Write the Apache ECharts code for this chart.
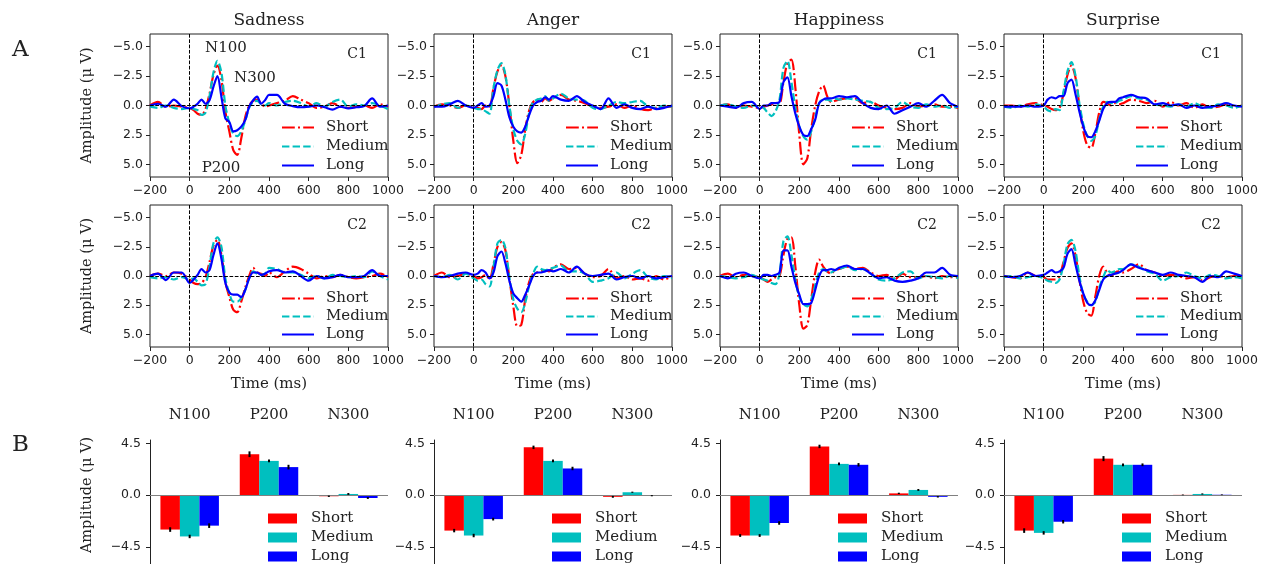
<!DOCTYPE html>
<html>
<head>
<meta charset="utf-8">
<script src="https://cdn.jsdelivr.net/npm/echarts@6/dist/echarts.min.js"></script>
<style>
html,body{margin:0;padding:0;background:#fff}
#main{width:1262px;height:564px}
</style>
</head>
<body>
<div id="main"></div>
<script>
// time axis (ms) shared by every ERP trace
var times = [-200,-160,-120,-80,-40,0,20,40,60,80,100,120,140,160,180,200,220,240,260,280,300,320,340,360,380,400,440,480,520,560,600,640,680,720,760,800,840,880,920,960,1000];

// Sadness
var sadC1Short = [0,-0.3,0.1,0,0.1,0.2, 0.4,0.7,0.8,0.3,-1.0,-2.6,-3.4,-2.2,0.5,2.2,3.8,4.2,2.8,1.0,0.0,-0.4,-0.5,-0.2,0.1,0.0, -0.2,-0.4,-0.8,-0.5,-0.2,0.2,0.1,-0.2,0.1,0.2,0.1,0.0,0.2,-0.1,0.1];
var sadC1Medium = [0.1,0.2,0.0,0.2,0.3,0.2, 0.3,0.4,0.8,0.6,-0.8,-2.8,-3.8,-2.8,0.0,1.5,2.4,2.6,2.2,1.3,0.2,-0.3,-0.4,-0.1,0.0,-0.2, 0.0,-0.3,-0.4,-0.2,0.1,-0.2,0.1,-0.3,-0.5,0.1,-0.1,0.0,-0.2,0.0,0.3];
var sadC1Long = [0,-0.15,0.1,-0.5,0.05,0.25, 0.1,-0.15,-0.5,-0.15,-0.45,-1.6,-2.5,-0.75,1.1,1.4,2.2,2.1,1.8,1.25,0.1,-0.45,-0.75,-0.15,-0.45,-0.9, -0.9,-0.15,0.05,0.15,0.1,0.0,0.15,0.35,0.1,0.25,0.15,0.05,-0.6,0.1,0.0];
var sadC2Short = [0,-0.2,0.0,-0.3,-0.2,0.3, 0.6,0.7,0.6,0.1,-1.2,-2.6,-3.1,-1.8,0.5,1.8,2.9,3.1,2.2,1.0,0.0,-0.7,-0.3,-0.2,0.0,-0.3, 0.1,-0.4,-0.8,-0.6,-0.2,0.2,0.0,0.1,-0.1,0.1,0.2,0.1,0.0,-0.2,0.1];
var sadC2Medium = [0.1,0.2,0.1,0.3,0.1,0.3, 0.2,0.5,0.8,0.7,-0.8,-2.8,-3.3,-2.5,0.2,1.5,2.2,2.2,1.9,1.2,0.2,-0.4,-0.2,-0.1,-0.2,-0.7, -0.6,-0.3,-0.3,-0.1,0.2,0.0,0.2,-0.1,0.0,0.1,0.0,0.1,-0.4,0.0,0.3];
var sadC2Long = [0,-0.2,0.35,-0.3,-0.3,0.6, 0.3,-0.1,-0.6,-0.3,-0.5,-1.8,-2.8,-1.5,0.6,1.4,1.6,1.6,1.8,1.2,0.2,-0.3,-0.3,-0.1,-0.2,-0.4, -0.5,-0.3,-0.4,0.0,0.4,0.0,0.2,0.1,-0.1,0.1,0.1,0.0,-0.5,0.0,0.0];
// Anger
var angC1Short = [0.1,-0.1,0.0,0.2,0.0,0.1, 0.2,0.3,0.0,0.1,-1.5,-2.9,-3.4,-2.5,0.0,3.0,4.9,4.2,2.0,0.4,-0.3,-0.5,-0.3,-0.6,-0.4,-0.6, -0.9,-0.5,-0.4,-0.2,0.1,0.2,0.1,-0.1,0.2,0.0,0.3,0.4,0.2,0.1,0.1];
var angC1Medium = [0.1,-0.1,-0.2,0.2,0.0,0.2, 0.3,0.3,0.5,0.7,-1.5,-3.0,-3.6,-2.6,0.0,2.0,3.0,3.3,2.4,0.6,-0.3,-0.5,-0.6,-0.8,-0.4,-0.6, -1.0,-0.6,-0.5,-0.4,0.2,0.3,0.0,-0.3,-0.2,-0.3,-0.4,0.1,0.2,0.0,0.1];
var angC1Long = [0.1,0.1,-0.1,-0.4,0.0,0.2, 0.0,-0.2,0.1,0.0,-0.8,-1.9,-1.7,-0.5,1.0,1.8,2.2,2.3,1.8,0.8,0.0,-0.3,-0.4,-0.7,-0.5,-0.8, -0.5,-0.4,-0.8,-0.3,0.0,0.3,-0.6,0.2,-0.1,0.2,0.3,0.1,0.3,0.2,0.0];
var angC2Short = [0.0,-0.3,0.1,0.0,-0.2,0.0, 0.2,0.1,-0.1,0.3,-1.0,-2.5,-2.9,-2.2,0.2,2.6,4.3,4.2,2.0,0.5,-0.2,-0.3,-0.4,-0.5,-0.4,-0.7, -1.0,-0.6,-0.7,-0.2,0.1,0.0,-0.6,0.2,0.0,0.3,0.2,0.4,0.0,0.3,0.0];
var angC2Medium = [0.0,0.1,-0.1,0.3,-0.2,0.2, 0.4,0.3,0.7,0.9,-0.8,-2.8,-3.1,-2.4,0.1,2.0,2.8,3.1,2.3,0.8,-0.2,-0.8,-0.6,-0.5,-0.6,-0.7, -0.9,-0.4,-0.4,-0.2,0.5,0.4,0.2,-0.3,0.2,-0.2,-0.5,0.1,0.3,0.0,0.2];
var angC2Long = [0.0,0.1,0.0,-0.2,-0.3,-0.1, -0.2,-0.5,-0.3,0.2,-0.3,-1.7,-2.1,-1.1,0.4,1.5,1.9,2.2,1.6,0.8,0.0,-0.3,-0.3,-0.4,-0.5,-0.4, -0.6,-0.3,-0.8,-0.2,0.0,-0.1,-0.2,0.3,0.1,0.0,0.2,0.0,0.2,0.1,0.0];
// Happiness
var hapC1Short = [0.0,-0.1,0.2,0.0,0.1,0.2, 0.1,0.0,-0.1,-0.2,-0.2,-2.0,-3.6,-3.9,-1.5,2.5,5.0,4.5,2.0,0.0,-1.2,-1.7,-0.8,-0.3,-0.4,-0.5, -0.6,-0.6,-0.2,-0.3,0.0,0.2,0.3,0.2,-0.2,0.1,0.0,-0.1,0.1,0.1,0.2];
var hapC1Medium = [0.0,-0.1,0.1,0.2,0.0,0.1, 0.2,0.6,0.9,0.5,-0.5,-3.2,-3.8,-2.0,0.2,1.8,2.6,2.9,2.2,1.0,-0.2,-0.5,-0.5,-0.4,-0.6,-0.5, -0.6,-0.5,-0.4,-0.3,0.2,0.3,0.2,-0.3,0.1,0.2,-0.1,0.1,0.0,0.2,0.1];
var hapC1Long = [0.0,0.1,0.2,-0.2,-0.3,0.3, 0.0,0.0,-0.2,-0.2,-0.3,-2.0,-2.4,-0.8,0.7,1.8,2.5,2.6,2.0,1.2,-0.2,-0.5,-0.6,-0.6,-0.7,-0.8, -0.7,-0.8,-0.2,0.2,0.3,0.0,0.7,0.4,0.1,-0.2,0.1,-0.4,-0.9,-0.2,0.1];
var hapC2Short = [0.0,-0.2,0.1,-0.1,0.0,0.1, 0.3,0.5,0.3,0.1,0.0,-1.8,-3.2,-3.3,-0.8,2.5,4.5,4.2,2.0,-0.3,-1.4,-0.8,-0.4,-0.2,-0.5,-0.6, -0.8,-0.6,-0.7,-0.3,0.0,-0.1,0.3,-0.2,0.1,0.1,0.0,0.2,0.0,0.1,0.1];
var hapC2Medium = [0.0,0.1,0.2,0.1,-0.1,0.2, 0.3,0.4,0.6,0.7,-0.2,-3.0,-3.4,-1.8,0.3,1.8,2.4,2.6,2.0,0.8,-0.3,-0.6,-0.4,-0.3,-0.5,-0.6, -0.8,-0.5,-0.6,-0.2,0.3,0.4,0.2,-0.3,-0.4,0.2,0.0,0.1,0.2,0.0,0.2];
var hapC2Long = [0.0,0.2,-0.2,-0.3,0.0,0.2, -0.1,-0.1,0.0,-0.1,-0.3,-2.2,-2.2,-0.8,0.6,1.6,2.4,2.4,2.3,1.2,0.0,-0.5,-0.5,-0.6,-0.5,-0.7, -0.9,-0.6,-0.6,-0.2,0.2,0.1,0.4,0.5,0.4,0.2,-0.3,-0.3,-0.7,-0.1,0.0];
// Surprise
var surC1Short = [0.0,0.0,0.1,-0.1,-0.2,0.0, 0.1,0.3,0.4,0.2,-1.0,-2.6,-3.4,-2.4,0.0,2.2,3.4,3.6,2.4,0.6,-0.3,-0.2,0.0,-0.2,-0.1,-0.2, -0.5,-0.4,-0.2,-0.4,0.1,-0.3,0.0,-0.2,0.2,-0.1,0.2,0.1,-0.1,0.1,0.0];
var surC1Medium = [0.1,0.2,0.0,0.1,-0.1,0.1, 0.4,0.5,0.3,0.4,-1.2,-2.9,-3.7,-2.6,-0.2,1.6,2.6,3.0,2.6,1.2,0.1,-0.3,-0.2,-0.2,-0.4,-0.5, -0.8,-0.6,-0.5,-0.1,0.0,0.1,-0.1,0.1,-0.2,0.1,0.2,-0.1,0.0,0.2,0.0];
var surC1Long = [0.1,0.1,0.1,0.0,0.1,0.0, -0.5,-0.7,-0.6,-0.8,-0.8,-1.9,-2.2,-1.0,0.5,1.8,2.6,2.7,2.2,1.3,0.3,-0.2,-0.3,-0.3,-0.6,-0.7, -0.9,-0.7,-0.6,-0.1,-0.2,0.0,-0.1,0.2,0.0,0.2,0.1,0.0,-0.2,0.0,0.1];
var surC2Short = [0.0,0.1,0.2,-0.3,0.0,0.1, 0.3,0.3,0.3,0.0,-1.2,-2.4,-2.8,-1.8,0.3,2.2,3.2,3.4,1.8,0.0,-0.8,-0.3,0.0,-0.3,-0.4,-0.3, -0.6,-1.0,-0.5,-0.3,0.0,-0.1,0.0,0.2,0.1,0.4,0.1,0.0,0.1,0.0,0.0];
var surC2Medium = [0.1,0.0,0.2,0.1,0.0,0.2, 0.4,0.5,0.6,0.3,-1.0,-2.7,-3.1,-2.2,0.0,1.6,2.2,2.5,2.2,1.0,0.1,-0.5,-0.3,-0.4,-0.6,-0.6, -1.0,-0.8,-0.4,-0.2,0.4,0.1,0.0,-0.3,0.0,0.2,-0.1,0.0,0.2,0.1,0.2];
var surC2Long = [0.0,0.1,0.0,-0.3,0.0,-0.1, -0.3,-0.5,-0.3,-0.4,-0.7,-1.9,-2.3,-1.0,0.4,1.5,2.3,2.5,2.1,1.2,0.3,0.0,-0.1,-0.2,-0.3,-0.5, -1.0,-0.7,-0.5,-0.3,-0.1,-0.3,-0.1,0.0,0.1,0.5,0.0,0.1,-0.4,-0.2,0.0];

// component means (B) and error bars
var barCats = ['N100','P200','N300'];
var sadBarShort = [-3.0,3.56,-0.1],  sadErrShort = [0.2,0.25,0.06];
var sadBarMedium = [-3.6,2.98,0.1],  sadErrMedium = [0.15,0.12,0.08];
var sadBarLong = [-2.66,2.44,-0.25], sadErrLong = [0.2,0.2,0.08];
var angBarShort = [-3.09,4.16,-0.15], angErrShort = [0.15,0.15,0.08];
var angBarMedium = [-3.52,2.98,0.25], angErrMedium = [0.15,0.12,0.05];
var angBarLong = [-2.09,2.32,-0.05],  angErrLong = [0.12,0.15,0.05];
var hapBarShort = [-3.52,4.24,0.15],  hapErrShort = [0.12,0.15,0.06];
var hapBarMedium = [-3.52,2.72,0.45], hapErrMedium = [0.12,0.12,0.08];
var hapBarLong = [-2.43,2.64,-0.15],  hapErrLong = [0.15,0.15,0.06];
var surBarShort = [-3.09,3.18,0.02],  surErrShort = [0.2,0.22,0.03];
var surBarMedium = [-3.29,2.64,0.1],  surErrMedium = [0.15,0.12,0.05];
var surBarLong = [-2.32,2.64,0.03],   surErrLong = [0.15,0.12,0.03];

var emotions = ['Sadness','Anger','Happiness','Surprise'];
var conditions = ['Short','Medium','Long'];
var erpC1 = [[sadC1Short,sadC1Medium,sadC1Long],[angC1Short,angC1Medium,angC1Long],[hapC1Short,hapC1Medium,hapC1Long],[surC1Short,surC1Medium,surC1Long]];
var erpC2 = [[sadC2Short,sadC2Medium,sadC2Long],[angC2Short,angC2Medium,angC2Long],[hapC2Short,hapC2Medium,hapC2Long],[surC2Short,surC2Medium,surC2Long]];
var barVals = [[sadBarShort,sadBarMedium,sadBarLong],[angBarShort,angBarMedium,angBarLong],[hapBarShort,hapBarMedium,hapBarLong],[surBarShort,surBarMedium,surBarLong]];
var barErrs = [[sadErrShort,sadErrMedium,sadErrLong],[angErrShort,angErrMedium,angErrLong],[hapErrShort,hapErrMedium,hapErrLong],[surErrShort,surErrMedium,surErrLong]];

var colors = ['#ff0000','#00bfbf','#0000ff'];
var dashes = [[12.8,3.2,2,3.2],[7.4,3.2],'solid'];
var serif = 'DejaVu Serif', sans = 'DejaVu Sans';
var ink = '#222';
var lefts = [150,434,720,1004], W = 238;
var rowTops = [34,205], rowH = [143,142];
var barTop = 440, barH = 125.5, barW = 19.5;

function fmt(d){
  return function(v){ return (v < 0 ? '\u2212' : '') + Math.abs(v).toFixed(d); };
}

var chart = echarts.init(document.getElementById('main'));
var grids = [], xAxes = [], yAxes = [], series = [], legends = [], graphics = [];

for (var r = 0; r < 2; r++) {
  for (var c = 0; c < 4; c++) {
    var gi = grids.length;
    grids.push({left: lefts[c], top: rowTops[r], width: W, height: rowH[r], show: true, borderColor: ink, borderWidth: 1});
    xAxes.push({gridIndex: gi, type: 'value', min: -200, max: 1000, interval: 200,
      axisLine: {show: false, onZero: false},
      axisTick: {show: true, length: 4, lineStyle: {color: ink}},
      axisLabel: {formatter: fmt(0), fontFamily: sans, fontSize: 12.5, color: ink, margin: 7},
      splitLine: {show: false}});
    yAxes.push({gridIndex: gi, type: 'value', inverse: true, min: -6.08, max: 6.08,
      axisLine: {show: false, onZero: false},
      axisTick: {show: true, length: 4, lineStyle: {color: ink}, customValues: [-5,-2.5,0,2.5,5]},
      axisLabel: {customValues: [-5,-2.5,0,2.5,5], formatter: fmt(1), fontFamily: sans, fontSize: 12.5, color: ink, margin: 7},
      splitLine: {show: false}});
    var sets = (r === 0 ? erpC1 : erpC2)[c];
    for (var k = 0; k < 3; k++) {
      var s = {type: 'line', name: conditions[k], xAxisIndex: gi, yAxisIndex: gi,
        data: times.map(function(t, i){ return [t, this[i]]; }, sets[k]),
        symbol: 'none', smooth: 0.3, animation: false,
        lineStyle: {color: colors[k], width: 2.2, type: dashes[k]},
        itemStyle: {color: colors[k]}};
      if (k === 0) {
        s.markLine = {silent: true, symbol: ['none','none'], label: {show: false}, animation: false,
          lineStyle: {color: '#000', width: 1, type: [3.7,1.6]},
          data: [{yAxis: 0}, {xAxis: 0}]};
      }
      series.push(s);
    }
    legends.push({orient: 'vertical', left: lefts[c] + 131, top: r === 0 ? 120 : 291, padding: 0,
      itemWidth: 32, itemHeight: 14, itemGap: r === 0 ? 4 : 3, selectedMode: false,
      itemStyle: {opacity: 0},
      data: conditions,
      textStyle: {fontFamily: serif, fontSize: 15, color: ink, padding: [0,0,0,7]}});
    graphics.push({type: 'text', x: lefts[c] + 207, y: rowTops[r] + 20,
      style: {text: r === 0 ? 'C1' : 'C2', font: '14px "DejaVu Serif"', fill: ink, align: 'center', verticalAlign: 'middle'}});
  }
}

for (var c = 0; c < 4; c++) {
  var gi = grids.length;
  grids.push({left: lefts[c], top: barTop, width: W, height: barH});
  xAxes.push({gridIndex: gi, type: 'category', data: barCats, position: 'top',
    axisLine: {show: false, onZero: false}, axisTick: {show: false},
    axisLabel: {fontFamily: serif, fontSize: 15, color: ink, margin: 17}});
  yAxes.push({gridIndex: gi, type: 'value', min: -6, max: 4.8,
    axisLine: {show: true, onZero: false, lineStyle: {color: ink, width: 1}},
    axisTick: {show: true, length: 4, lineStyle: {color: ink}, customValues: [-4.5,0,4.5]},
    axisLabel: {customValues: [-4.5,0,4.5], formatter: fmt(1), fontFamily: sans, fontSize: 12.5, color: ink, margin: 9},
    splitLine: {show: false}});
  for (var k = 0; k < 3; k++) {
    var b = {type: 'bar', name: conditions[k], xAxisIndex: gi, yAxisIndex: gi,
      data: barVals[c][k], barWidth: barW, barGap: '0%', animation: false,
      itemStyle: {color: colors[k]}};
    if (k === 0) {
      b.markLine = {silent: true, symbol: ['none','none'], label: {show: false}, animation: false,
        lineStyle: {color: '#808080', width: 1.2, type: 'solid'}, data: [{yAxis: 0}]};
    }
    series.push(b);
  }
  for (var k = 0; k < 3; k++) {
    (function(k){
      series.push({type: 'custom', name: 'err', xAxisIndex: gi, yAxisIndex: gi, z: 5, animation: false,
        data: barVals[c][k].map(function(v, i){ return [i, v, this[i]]; }, barErrs[c][k]),
        renderItem: function(params, api){
          var lo = api.coord([api.value(0), api.value(1) - api.value(2)]);
          var hi = api.coord([api.value(0), api.value(1) + api.value(2)]);
          var off = (k - 1) * barW;
          return {type: 'line', shape: {x1: lo[0] + off, y1: lo[1], x2: hi[0] + off, y2: hi[1]},
            style: {stroke: '#000', lineWidth: 2}};
        }});
    })(k);
  }
  legends.push({orient: 'vertical', left: lefts[c] + 118, top: 511, height: 120, padding: 0, icon: 'rect',
    itemWidth: 29, itemHeight: 10, itemGap: 4, selectedMode: false, data: conditions,
    textStyle: {fontFamily: serif, fontSize: 15, color: ink, padding: [0,0,0,9]}});
}

// titles, panel letters, axis names, annotations
emotions.forEach(function(e, c){
  graphics.push({type: 'text', x: lefts[c] + 119, y: 21, style: {text: e, font: '17px "DejaVu Serif"', fill: ink, align: 'center', verticalAlign: 'middle'}});
  graphics.push({type: 'text', x: lefts[c] + 119, y: 384, style: {text: 'Time (ms)', font: '15px "DejaVu Serif"', fill: ink, align: 'center', verticalAlign: 'middle'}});
});
graphics.push({type: 'text', x: 12, y: 50, style: {text: 'A', font: '23px "DejaVu Serif"', fill: ink, align: 'left', verticalAlign: 'middle'}});
graphics.push({type: 'text', x: 12, y: 445, style: {text: 'B', font: '23px "DejaVu Serif"', fill: ink, align: 'left', verticalAlign: 'middle'}});
[105.5, 276, 495].forEach(function(cy){
  graphics.push({type: 'text', x: 87, y: cy, rotation: Math.PI / 2,
    style: {text: 'Amplitude (\u03bc V)', font: '14.5px "DejaVu Serif"', fill: ink, align: 'center', verticalAlign: 'middle'}});
});
graphics.push({type: 'text', x: 226, y: 48, style: {text: 'N100', font: '15px "DejaVu Serif"', fill: ink, align: 'center', verticalAlign: 'middle'}});
graphics.push({type: 'text', x: 255, y: 78, style: {text: 'N300', font: '15px "DejaVu Serif"', fill: ink, align: 'center', verticalAlign: 'middle'}});
graphics.push({type: 'text', x: 221, y: 168, style: {text: 'P200', font: '15px "DejaVu Serif"', fill: ink, align: 'center', verticalAlign: 'middle'}});

chart.setOption({
  animation: false,
  backgroundColor: '#fff',
  grid: grids,
  xAxis: xAxes,
  yAxis: yAxes,
  legend: legends,
  series: series,
  graphic: graphics
});
</script>
</body>
</html>
